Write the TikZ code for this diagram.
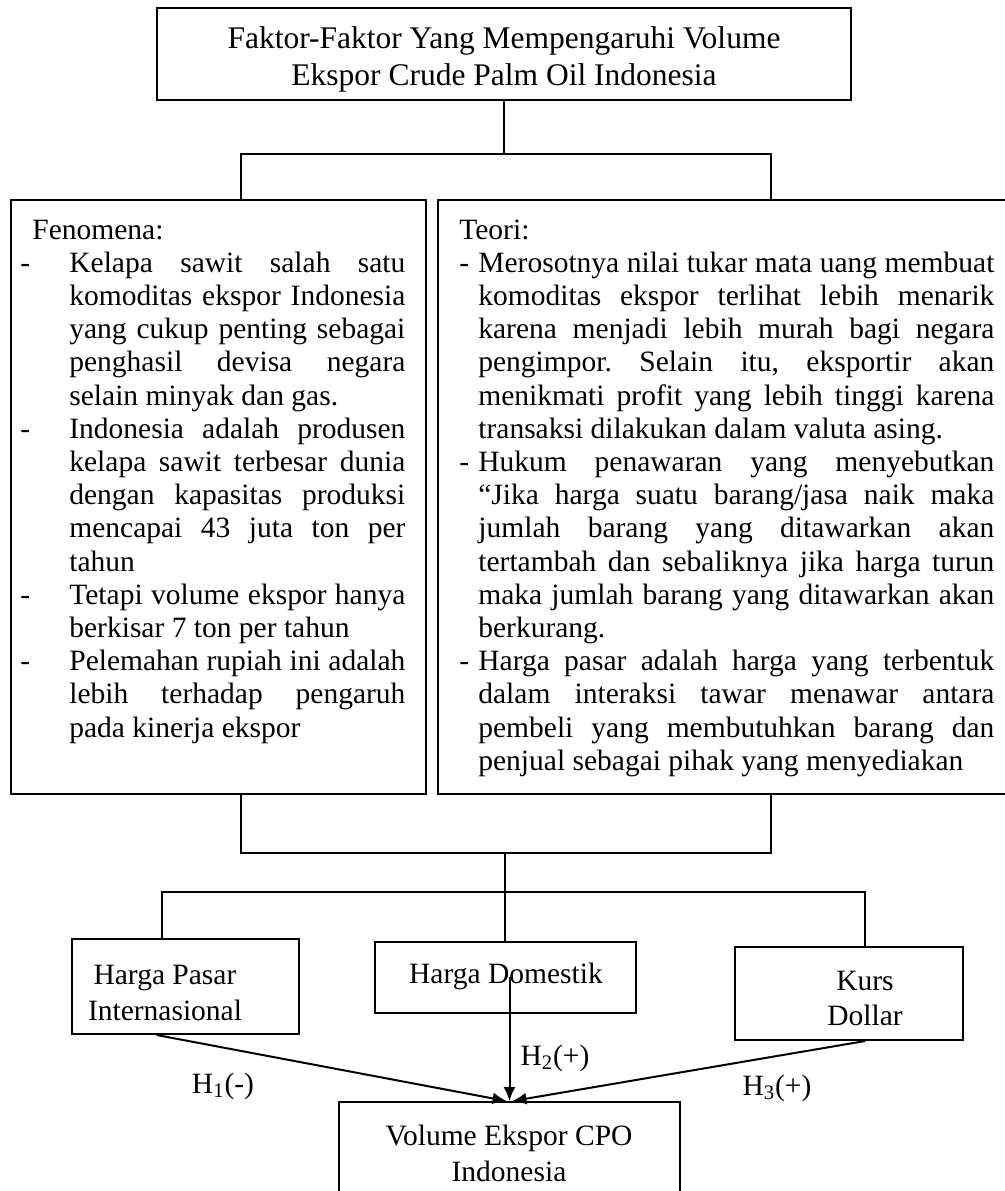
\documentclass[tikz,border=0pt]{standalone}
\usepackage{fontspec}
\setmainfont{Liberation Serif}
\usetikzlibrary{arrows.meta,calc}
\tolerance=10000 \hbadness=10000 \hfuzz=20pt
\begin{document}
\frenchspacing
\begin{tikzpicture}[x=0.5pt,y=-0.5pt,
  box/.style={draw,line width=1pt,inner sep=0pt,rectangle},
  conn/.style={line width=1pt},
  arr/.style={line width=1pt,-{Latex[length=7pt,width=6pt]}},
  lbl/.style={inner sep=0pt,align=center,font=\fontsize{14.75}{17.75}\selectfont},
  ttl/.style={inner sep=0pt,align=center,font=\fontsize{15.75}{18.5}\selectfont},
  body/.style={inner sep=0pt,anchor=north west,align=justify,font=\fontsize{14.75}{16.6}\selectfont},
  dashmark/.style={inner sep=0pt,anchor=north west,font=\fontsize{14.75}{16.6}\selectfont}]
\useasboundingbox (0,0) rectangle (1005,1191);
\clip (0,0) rectangle (1005,1191);

% boxes
\node[box,minimum width=347pt,minimum height=46pt] (top) at (504,54) {};
\node[box,minimum width=207.5pt,minimum height=297pt] (fen) at (218.5,497) {};
\node[box,minimum width=286pt,minimum height=297pt] (teo) at (724,497) {};
\node[box,minimum width=113.5pt,minimum height=47.5pt] (HP) at (185.5,986.5) {};
\node[box,minimum width=130.5pt,minimum height=35.5pt] (HD) at (505.5,977.5) {};
\node[box,minimum width=114pt,minimum height=46.5pt] (KD) at (849,993.5) {};
\node[box,minimum width=170.5pt,minimum height=49pt] (vol) at (509.5,1151) {};

% title
\node[ttl] (toptxt) at (504,59) {Faktor-Faktor Yang Mempengaruhi Volume\\Ekspor Crude Palm Oil Indonesia};

% Fenomena
\node[dashmark] (fh) at (32,215.5) {\strut Fenomena:};
\node[dashmark] (fd1) at (20,248.7) {\strut-};
\node[body,text width=168pt] (f1) at (69,248.7) {\strut Kelapa sawit salah satu\linebreak komoditas ekspor Indonesia\linebreak yang cukup penting sebagai\linebreak penghasil devisa negara\linebreak selain minyak dan gas.};
\node[dashmark] (fd2) at (20,414.7) {\strut-};
\node[body,text width=168pt] (f2) at (69,414.7) {\strut Indonesia adalah produsen\linebreak kelapa sawit terbesar dunia\linebreak dengan kapasitas produksi\linebreak mencapai 43 juta ton per\linebreak tahun};
\node[dashmark] (fd3) at (20,580.7) {\strut-};
\node[body,text width=168pt] (f3) at (69,580.7) {\strut Tetapi volume ekspor hanya\linebreak berkisar 7 ton per tahun};
\node[dashmark] (fd4) at (20,647.1) {\strut-};
\node[body,text width=168pt] (f4) at (69,647.1) {\strut Pelemahan rupiah ini adalah\linebreak lebih terhadap pengaruh\linebreak pada kinerja ekspor};

% Teori
\node[dashmark] (th) at (459,215.5) {\strut Teori:};
\node[dashmark] (td1) at (459,248.7) {\strut-};
\node[body,text width=258pt] (t1) at (478,248.7) {\strut Merosotnya nilai tukar mata uang membuat\linebreak komoditas ekspor terlihat lebih menarik\linebreak karena menjadi lebih murah bagi negara\linebreak pengimpor. Selain itu, eksportir akan\linebreak menikmati profit yang lebih tinggi karena\linebreak transaksi dilakukan dalam valuta asing.};
\node[dashmark] (td2) at (459,447.9) {\strut-};
\node[body,text width=258pt] (t2) at (478,447.9) {\strut Hukum penawaran yang menyebutkan\linebreak “Jika harga suatu barang/jasa naik maka\linebreak jumlah barang yang ditawarkan akan\linebreak tertambah dan sebaliknya jika harga turun\linebreak maka jumlah barang yang ditawarkan akan\linebreak berkurang.};
\node[dashmark] (td3) at (459,647.1) {\strut-};
\node[body,text width=258pt] (t3) at (478,647.1) {\parfillskip=0pt\strut Harga pasar adalah harga yang terbentuk\linebreak dalam interaksi tawar menawar antara\linebreak pembeli yang membutuhkan barang dan\linebreak penjual sebagai pihak yang menyediakan};

% lower texts
\node[lbl] (hptxt) at (165,993) {Harga Pasar\\Internasional};
\node[lbl] (hdtxt) at (506,976) {Harga Domestik};
\node[lbl] (kdtxt) at (865,998.5) {Kurs\\Dollar};
\node[lbl] (voltxt) at (509,1153.5) {Volume Ekspor CPO\\Indonesia};
\node[lbl] (h1) at (223,1086) {H\textsubscript{1}(-)};
\node[lbl] (h2) at (555,1058) {H\textsubscript{2}(+)};
\node[lbl] (h3) at (777,1088) {H\textsubscript{3}(+)};

% tree connectors
\coordinate (j1) at (504,154);
\coordinate (jl) at (241,154);
\coordinate (jr) at (771,154);
\draw[conn] (top.south) -- (j1);
\draw[conn] (jl |- fen.north) -- (jl) -- (jr) -- (jr |- teo.north);
\coordinate (bl) at (241,853);
\coordinate (br) at (771,853);
\coordinate (bm) at (505,853);
\draw[conn] (bl |- fen.south) -- (bl) -- (br) -- (br |- teo.south);
\coordinate (hm) at (505,892);
\coordinate (hl) at (162,892);
\coordinate (hr) at (865,892);
\draw[conn] (bm) -- (hm);
\draw[conn] (hl |- HP.north) -- (hl) -- (hr) -- (hr |- KD.north);
\draw[conn] (hm) -- (hm |- HD.north);

% arrows
\draw[arr] ($(HP.south west)!0.374!(HP.south east)$) -- ($(vol.north)+(-3,0)$);
\draw[arr] ($(HD.center)+(4,-1)$) -- (vol.north);
\draw[arr] ($(KD.south west)!0.57!(KD.south east)$) -- ($(vol.north)+(3,0)$);
\end{tikzpicture}
\end{document}
